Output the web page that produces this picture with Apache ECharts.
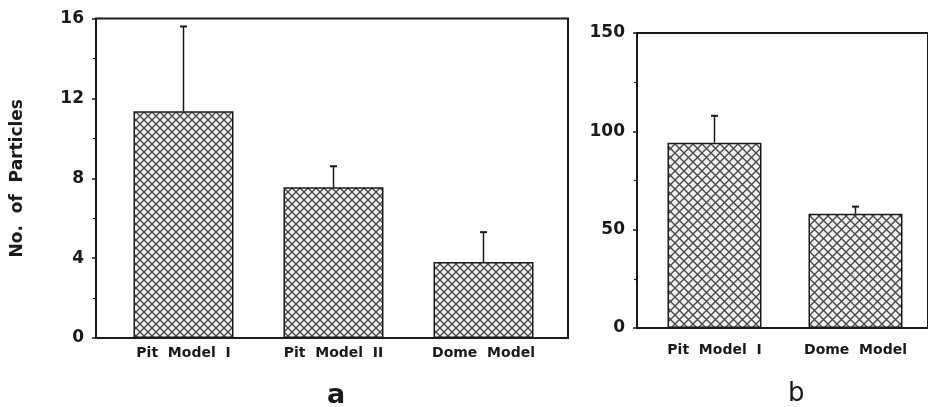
<!DOCTYPE html>
<html>
<head>
<meta charset="utf-8">
<script src="https://cdn.jsdelivr.net/npm/echarts@6/dist/echarts.min.js"></script>
<style>
html,body{margin:0;padding:0;background:#fff;}
#chart{width:928px;height:407px;}
</style>
</head>
<body>
<div id="chart"></div>
<script>
// ---- data ----
const categoriesA = ['Pit Model I', 'Pit Model II', 'Dome Model'];
const meansA = [11.35, 7.55, 3.8];
const upperA = [15.6, 8.6, 5.3];
const ticksA = [0, 4, 8, 12, 16];

const categoriesB = ['Pit Model I', 'Dome Model'];
const meansB = [94.2, 58.1];
const upperB = [107.9, 61.7];
const ticksB = [0, 50, 100, 150];

const yNameA = 'No. of Particles';
const panelLabels = ['a', 'b'];

// ---- styles ----
function makePattern(size) {
  const c = document.createElement('canvas');
  c.width = size; c.height = size;
  const g = c.getContext('2d');
  g.fillStyle = '#f0f0f0';
  g.fillRect(0, 0, size, size);
  g.strokeStyle = '#4a4a4a';
  g.lineWidth = 1.4;
  g.beginPath();
  g.moveTo(-1, -1); g.lineTo(size + 1, size + 1);
  g.moveTo(size + 1, -1); g.lineTo(-1, size + 1);
  g.stroke();
  return { image: c, repeat: 'repeat' };
}
const hatchA = makePattern(8);
const hatchB = makePattern(9);

const FONT = 'DejaVu Sans';
const INK = '#1a1a1a';

function spaced(v) { return v.replace(/ /g, '  '); }

function errorSeries(xi, yi, upper, means) {
  return {
    type: 'custom',
    xAxisIndex: xi, yAxisIndex: yi,
    silent: true,
    z: 5,
    data: means.map((m, i) => [i, m, upper[i]]),
    renderItem: function (params, api) {
      const i = api.value(0);
      const p0 = api.coord([i, api.value(1)]);
      const p1 = api.coord([i, api.value(2)]);
      const hw = 3.5;
      return {
        type: 'group',
        children: [
          { type: 'line', shape: { x1: p0[0], y1: p0[1], x2: p1[0], y2: p1[1] },
            style: { stroke: INK, lineWidth: 1.5 } },
          { type: 'line', shape: { x1: p1[0] - hw, y1: p1[1], x2: p1[0] + hw, y2: p1[1] },
            style: { stroke: INK, lineWidth: 2 } }
        ]
      };
    }
  };
}

function valueAxis(grid, ticks, visible) {
  return {
    type: 'value', gridIndex: grid,
    min: ticks[0], max: ticks[ticks.length - 1], interval: ticks[1] - ticks[0],
    show: visible,
    axisLine: { show: false },
    axisTick: { show: true, inside: false, length: 4, lineStyle: { color: INK, width: 1.5 } },
    minorTick: { show: true, splitNumber: 2, length: 3, lineStyle: { color: INK, width: 1.2 } },
    splitLine: { show: false },
    axisLabel: { color: INK, fontFamily: FONT, fontWeight: 'bold', fontSize: 17, margin: 12 }
  };
}

const chart = echarts.init(document.getElementById('chart'), null, { renderer: 'canvas' });

const option = {
  backgroundColor: '#ffffff',
  animation: false,
  grid: [
    { left: 96, top: 18.5, width: 472, height: 319.5, show: true, borderColor: INK, borderWidth: 2, backgroundColor: 'transparent' },
    { left: 108.5, top: 18.5, width: 450, height: 319.5, show: false },
    { left: 637, top: 33, width: 330, height: 295, show: true, borderColor: INK, borderWidth: 2, backgroundColor: 'transparent' },
    { left: 644, top: 33, width: 282, height: 295, show: false }
  ],
  xAxis: [
    { type: 'category', gridIndex: 0, data: categoriesA, show: false },
    { type: 'category', gridIndex: 1, data: categoriesA,
      axisLine: { show: false }, axisTick: { show: false },
      axisLabel: { color: INK, fontFamily: FONT, fontWeight: 'bold', fontSize: 14, margin: 8, formatter: spaced } },
    { type: 'category', gridIndex: 2, data: categoriesB, show: false },
    { type: 'category', gridIndex: 3, data: categoriesB,
      axisLine: { show: false }, axisTick: { show: false },
      axisLabel: { color: INK, fontFamily: FONT, fontWeight: 'bold', fontSize: 14, margin: 15, formatter: spaced } }
  ],
  yAxis: [
    Object.assign(valueAxis(0, ticksA, true), {
      name: spaced(yNameA), nameLocation: 'middle', nameGap: 70,
      nameTextStyle: { color: INK, fontFamily: FONT, fontWeight: 'bold', fontSize: 17 }
    }),
    valueAxis(1, ticksA, false),
    valueAxis(2, ticksB, true),
    valueAxis(3, ticksB, false)
  ],
  series: [
    { type: 'bar', xAxisIndex: 1, yAxisIndex: 1, data: meansA, barWidth: 100,
      itemStyle: { color: hatchA, borderColor: INK, borderWidth: 1.5 }, z: 3 },
    errorSeries(1, 1, upperA, meansA),
    { type: 'bar', xAxisIndex: 3, yAxisIndex: 3, data: meansB, barWidth: 94,
      itemStyle: { color: hatchB, borderColor: INK, borderWidth: 1.5 }, z: 3 },
    errorSeries(3, 3, upperB, meansB)
  ],
  graphic: [
    { type: 'text', left: 327, top: 382,
      style: { text: panelLabels[0], fill: INK, font: 'bold 27px "DejaVu Sans"' } },
    { type: 'text', left: 788, top: 381,
      style: { text: panelLabels[1], fill: INK, font: '26px "DejaVu Sans"' } }
  ]
};
chart.setOption(option);
</script>
</body>
</html>
